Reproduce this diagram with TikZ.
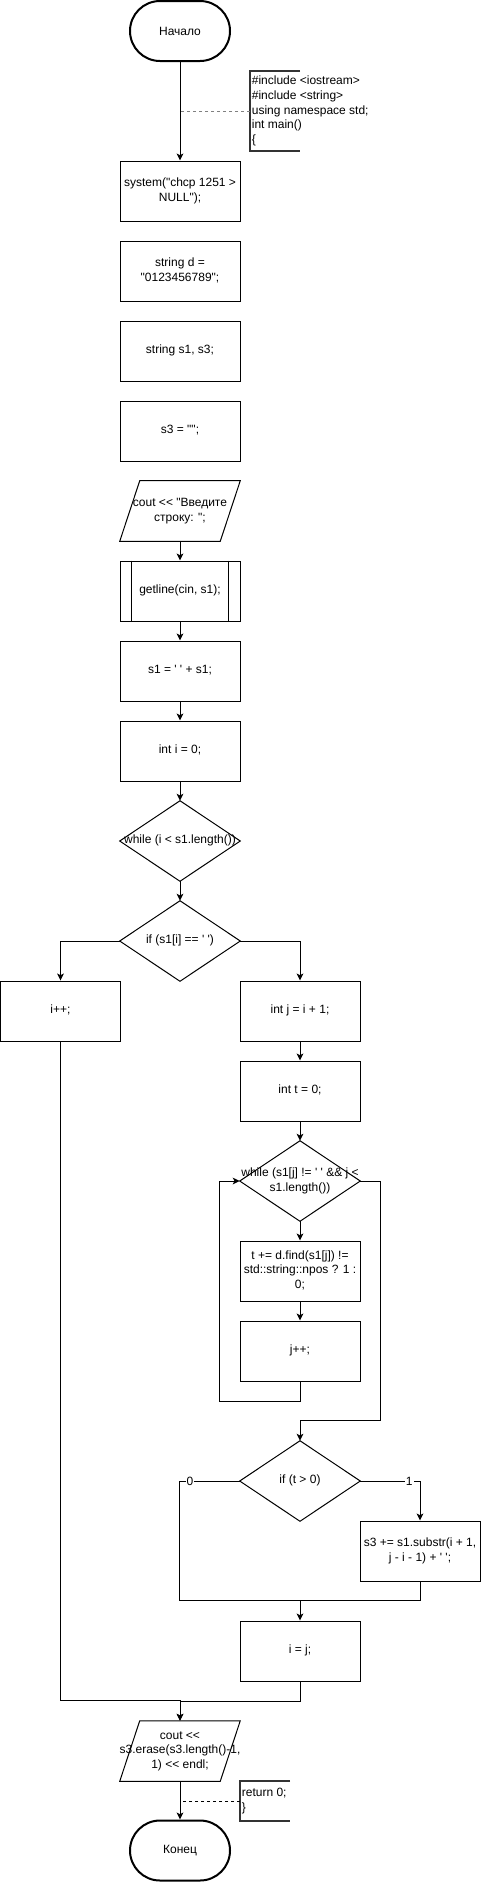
\documentclass[tikz,border=0pt]{standalone}
\usepackage{fontspec}
\setmainfont{Liberation Sans}[Ligatures=TeXOff]
\usetikzlibrary{arrows.meta,calc}
\newcommand{\tx}[1]{\makebox[0pt]{\begin{tabular}{@{}c@{}}#1\end{tabular}}}
\begin{document}
\begin{tikzpicture}[x=0.75pt,y=-0.75pt,
  every node/.style={font=\fontsize{9}{11}\selectfont},
  ln/.style={line width=0.75pt},
  arr/.style={ln,-{Stealth[length=5.25pt,width=5pt,inset=1.3pt]}},
  term/.style={draw,line width=1.5pt,rounded corners=22.5pt,minimum width=75pt,minimum height=45pt,inner sep=0pt},
  proc/.style={draw,line width=0.75pt,minimum width=90pt,minimum height=45pt,inner sep=0pt},
  frm/.style={minimum width=90pt,minimum height=45pt,inner sep=0pt},
  dia/.style={minimum width=90pt,minimum height=60pt,inner sep=0pt},
  note/.style={anchor=west,align=left,inner xsep=1.2pt,inner ysep=0pt},
  brk/.style={line width=1.6pt,draw=black!80},
  lbl/.style={fill=white,inner sep=0.8pt},
  dsh/.style={ln,dash pattern=on 2.25pt off 2.25pt}
]
\useasboundingbox (0,0) rectangle (481,1882);

% nodes
\node[term] (start) at (180,31) {Начало};
\node[note] (c1) at (250,111) {\#include <iostream>\\\#include <string>\\using namespace std;\\int main()\\\{};
\node[proc] (b1) at (180,191) {\tx{system("chcp 1251 >\\NULL");}};
\node[proc] (b2) at (180,271) {\tx{string d =\\"0123456789";}};
\node[proc] (b3) at (180,351) {\tx{string s1, s3;}};
\node[proc] (b4) at (180,431) {\tx{s3 = "";}};
\node[frm] (in1) at (180,511) {\tx{cout << "Введите\\строку: ";}};
\node[proc] (gl) at (180,591) {\tx{getline(cin, s1);}};
\node[proc] (sp) at (180,671) {\tx{s1 = ' ' + s1;}};
\node[proc] (i0) at (180,751) {\tx{int i = 0;}};
\node[dia] (w1) at (180,841) {\tx{while (i < s1.length())}};
\node[dia] (if1) at (180,941) {\tx{if (s1[i] == ' ')}};
\node[proc] (ipp) at (60.5,1011) {\tx{i++;}};
\node[proc] (ij1) at (300,1011) {\tx{int j = i + 1;}};
\node[proc] (t0) at (300,1091) {\tx{int t = 0;}};
\node[dia] (w2) at (300,1181) {\tx{while (s1[j] != ' ' \&\& j <\\s1.length())}};
\node[proc] (tb) at (300,1271) {\tx{t += d.find(s1[j]) !=\\std::string::npos ? 1 :\\0;}};
\node[proc] (jpp) at (300,1351) {\tx{j++;}};
\node[dia] (if2) at (300,1481) {\tx{if (t > 0)}};
\node[proc] (s3b) at (420,1551) {\tx{s3 += s1.substr(i + 1,\\j - i - 1) + ' ';}};
\node[proc] (ij) at (300,1651) {\tx{i = j;}};
\node[frm] (out) at (180,1751) {\tx{cout <<\\s3.erase(s3.length()-1,\\1) << endl;}};
\node[term] (end) at (180,1850.5) {Конец};
\node[note] (c2) at (240,1801) {return 0;\\\}};

% shapes drawn from frames
\draw[ln] ($(in1.north west)+(20,0)$) -- (in1.north east) -- ($(in1.south east)+(-20,0)$) -- (in1.south west) -- cycle;
\draw[ln] ($(out.north west)+(20,0)$) -- (out.north east) -- ($(out.south east)+(-20,0)$) -- (out.south west) -- cycle;
\draw[ln] ($(gl.north west)+(12,0)$) -- ($(gl.south west)+(12,0)$) ($(gl.north east)+(-12,0)$) -- ($(gl.south east)+(-12,0)$);
\draw[ln] (w1.north) -- (w1.east) -- (w1.south) -- (w1.west) -- cycle;
\draw[ln] (if1.north) -- (if1.east) -- (if1.south) -- (if1.west) -- cycle;
\draw[ln] (w2.north) -- (w2.east) -- (w2.south) -- (w2.west) -- cycle;
\draw[ln] (if2.north) -- (if2.east) -- (if2.south) -- (if2.west) -- cycle;

% comments
\draw[brk] ($(c1.west)+(50,-40)$) -- ($(c1.west)+(0,-40)$) -- ($(c1.west)+(0,40)$) -- ($(c1.west)+(50,40)$);
\draw[dsh,gray] (c1.west) -- (c1.west -| start.south);
\draw[brk] ($(c2.west)+(50,-20)$) -- ($(c2.west)+(0,-20)$) -- ($(c2.west)+(0,20)$) -- ($(c2.west)+(50,20)$);
\draw[dsh] (c2.west) -- (c2.west -| out.south);

% connectors
\draw[arr] (start.south) -- (b1.north);
\draw[arr] (in1.south) -- (gl.north);
\draw[arr] (gl.south) -- (sp.north);
\draw[arr] (sp.south) -- (i0.north);
\draw[arr] (i0.south) -- (w1.north);
\draw[arr] (w1.south) -- (if1.north);
\draw[arr] (if1.west) -| (ipp.north);
\draw[arr] (if1.east) -| (ij1.north);
\draw[arr] (ij1.south) -- (t0.north);
\draw[arr] (t0.south) -- (w2.north);
\draw[arr] (w2.south) -- (tb.north);
\draw[arr] (tb.south) -- (jpp.north);
\draw[arr] (jpp.south) -- ++(0,20) -| ($(w2.west)+(-20,0)$) -- (w2.west);
\draw[arr] (w2.east) -- ++(20,0) |- ($(if2.north)+(0,-20)$) -- (if2.north);
\draw[arr] (if2.west) -- node[lbl,pos=0.83] (l0) {0} ($(if2.west)+(-60,0)$) |- ($(ij.north)+(0,-20)$) -- (ij.north);
\draw[arr] (if2.east) -| node[lbl,pos=0.41] (l1) {1} (s3b.north);
\draw[ln] (s3b.south) |- ($(ij.north)+(0,-20)$);
\draw[arr] (ij.south) -- ++(0,20) -| (out.north);
\draw[arr] (ipp.south) |- ($(out.north)+(0,-20)$) -- (out.north);
\draw[arr] (out.south) -- (end.north);
\end{tikzpicture}
\end{document}
